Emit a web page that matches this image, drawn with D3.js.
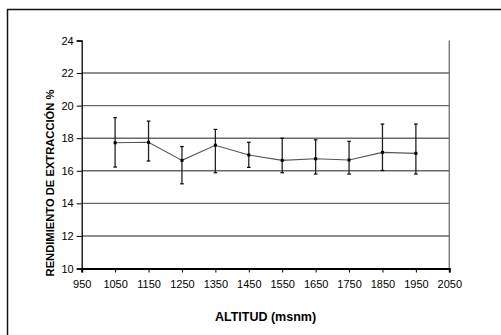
<!DOCTYPE html>
<html>
<head>
<meta charset="utf-8">
<script src="https://cdn.jsdelivr.net/npm/d3@7"></script>
<style>
html,body{margin:0;padding:0;background:#fff;}
svg{display:block;}
text{font-family:"Liberation Sans",Arial,sans-serif;fill:#000;}
</style>
</head>
<body>
<svg id="chart" width="501" height="335"></svg>
<script>
const altitudes = [1050, 1150, 1250, 1350, 1450, 1550, 1650, 1750, 1850, 1950];
const means     = [17.72, 17.75, 16.64, 17.57, 16.97, 16.64, 16.74, 16.66, 17.13, 17.07];
const upper     = [19.26, 19.05, 17.49, 18.54, 17.75, 18.00, 17.90, 17.81, 18.87, 18.87];
const lower     = [16.23, 16.60, 15.20, 15.88, 16.21, 15.88, 15.80, 15.80, 16.02, 15.80];
const xTicks = [950, 1050, 1150, 1250, 1350, 1450, 1550, 1650, 1750, 1850, 1950, 2050];
const yTicks = [10, 12, 14, 16, 18, 20, 22, 24];
const xTitle = "ALTITUD (msnm)";
const yTitle = "RENDIMIENTO DE EXTRACCIÓN %";

const svg = d3.select("#chart");
const L = 81.7, R = 449.3, T = 40.5, B = 268.5;

// outer frame
svg.append("rect").attr("x", 7.5).attr("y", 9.5).attr("width", 520).attr("height", 360)
  .attr("fill", "none").attr("stroke", "#111").attr("stroke-width", 1.5);

const x = d3.scaleLinear().domain([950, 2050]).range([L, R]);
const y = d3.scaleLinear().domain([10, 24]).range([B, T]);

// gridlines
svg.append("g").selectAll("line").data(yTicks.filter(d => d > 10 && d < 24)).join("line")
  .attr("x1", L).attr("x2", R).attr("y1", d => y(d)).attr("y2", d => y(d))
  .attr("stroke", "#6a6a6a").attr("stroke-width", 1.4);

// right border of plot
svg.append("line").attr("x1", R).attr("x2", R).attr("y1", T).attr("y2", B)
  .attr("stroke", "#777").attr("stroke-width", 1.4);

// y axis
const yAxis = svg.append("g").attr("transform", `translate(${L},0)`)
  .call(d3.axisLeft(y).tickValues(yTicks).tickSize(5).tickPadding(3).tickFormat(d3.format("d")));
yAxis.select(".domain").attr("stroke", "#000").attr("stroke-width", 1.3);
yAxis.selectAll(".tick line").attr("stroke", "#000").attr("stroke-width", 1);
yAxis.selectAll("text").attr("font-size", "11px").style("font-family", '"Liberation Sans",Arial,sans-serif');

// x axis
const xAxis = svg.append("g").attr("transform", `translate(0,${B})`)
  .call(d3.axisBottom(x).tickValues(xTicks).tickSize(4).tickPadding(8).tickFormat(d3.format("d")));
xAxis.select(".domain").attr("stroke", "#000").attr("stroke-width", 2);
xAxis.selectAll(".tick line").attr("stroke", "#000").attr("stroke-width", 1);
xAxis.selectAll("text").attr("font-size", "11px").style("font-family", '"Liberation Sans",Arial,sans-serif');

// error bars
const data = altitudes.map((a, i) => ({a, m: means[i], u: upper[i], l: lower[i]}));
const eb = svg.append("g");
eb.selectAll("line.v").data(data).join("line").attr("class", "v")
  .attr("x1", d => x(d.a)).attr("x2", d => x(d.a)).attr("y1", d => y(d.u)).attr("y2", d => y(d.l))
  .attr("stroke", "#222").attr("stroke-width", 1.3);
eb.selectAll("line.cu").data(data).join("line").attr("class", "cu")
  .attr("x1", d => x(d.a) - 1.8).attr("x2", d => x(d.a) + 1.8).attr("y1", d => y(d.u)).attr("y2", d => y(d.u))
  .attr("stroke", "#000").attr("stroke-width", 1.2);
eb.selectAll("line.cl").data(data).join("line").attr("class", "cl")
  .attr("x1", d => x(d.a) - 1.8).attr("x2", d => x(d.a) + 1.8).attr("y1", d => y(d.l)).attr("y2", d => y(d.l))
  .attr("stroke", "#000").attr("stroke-width", 1.2);

// mean line
svg.append("path").datum(data)
  .attr("d", d3.line().x(d => x(d.a)).y(d => y(d.m)))
  .attr("fill", "none").attr("stroke", "#555").attr("stroke-width", 1.1);

// markers
svg.append("g").selectAll("rect").data(data).join("rect")
  .attr("x", d => x(d.a) - 1.5).attr("y", d => y(d.m) - 1.5).attr("width", 3).attr("height", 3)
  .attr("fill", "#000");

// titles
svg.append("text").attr("x", (L + R) / 2).attr("y", 321).attr("text-anchor", "middle")
  .attr("font-size", "12.5px").attr("font-weight", "bold").text(xTitle);
svg.append("text").attr("transform", "translate(53.5,183) rotate(-90)").attr("text-anchor", "middle")
  .attr("font-size", "11.2px").attr("font-weight", "bold").text(yTitle);
</script>
</body>
</html>
